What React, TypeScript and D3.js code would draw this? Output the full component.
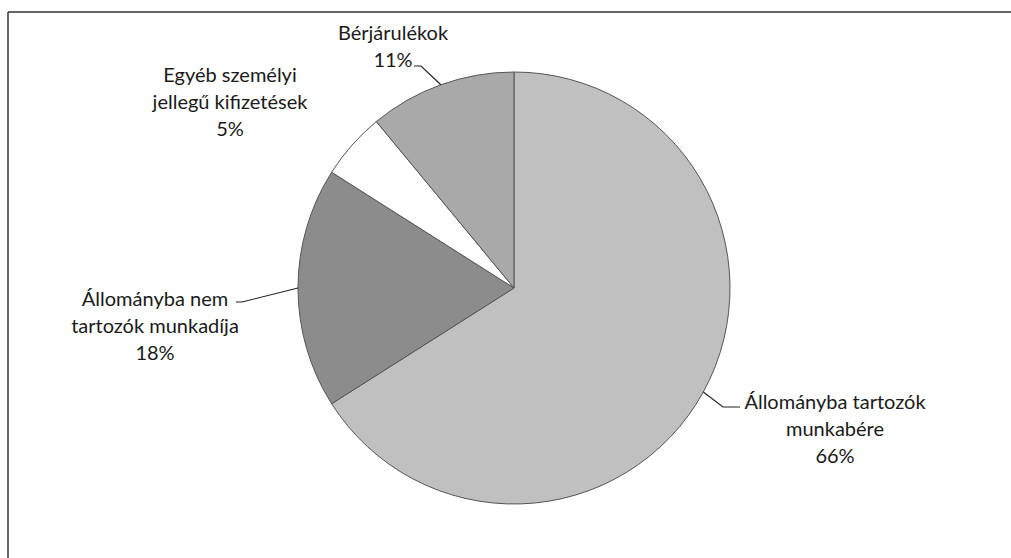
import React from "react";
import * as d3 from "d3";

const categories = [
  "Állományba tartozók munkabére",
  "Állományba nem tartozók munkadíja",
  "Egyéb személyi jellegű kifizetések",
  "Bérjárulékok",
];
const values = [66, 18, 5, 11];
const labelLines = [
  ["Állományba tartozók", "munkabére", "66%"],
  ["Állományba nem", "tartozók munkadíja", "18%"],
  ["Egyéb személyi", "jellegű kifizetések", "5%"],
  ["Bérjárulékok", "11%"],
];

// layout (not data)
const W = 1011;
const H = 558;
const cx = 514;
const cy = 288;
const R = 216;
const fills = ["#c0c0c0", "#8c8c8c", "#ffffff", "#a9a9a9"];
const labelPos = [
  { x: 835, y: 409, leader: [[740, 407], [723, 407]] },
  { x: 155, y: 306, leader: [[236, 302], [242, 302]] },
  { x: 230, y: 82, leader: null },
  { x: 393, y: 40, leader: [[414, 66], [421, 66]] },
];
const lineH = 27;

export default function App() {
  const pie = d3.pie<number>().sort(null).value((d) => d);
  const arcs = pie(values);
  const arc = d3.arc<d3.PieArcDatum<number>>().innerRadius(0).outerRadius(R);
  const font = "Lato, 'Open Sans', sans-serif";
  return (
    <svg
      width={W}
      height={H}
      style={{ position: "absolute", left: 0, top: 0, background: "#fff" }}
    >
      <line x1={8} y1={12} x2={1011} y2={12} stroke="#333" strokeWidth={1.5} />
      <line x1={8} y1={12} x2={8} y2={558} stroke="#333" strokeWidth={1.5} />
      <g transform={`translate(${cx},${cy})`}>
        {arcs.map((a, i) => (
          <path
            key={categories[i]}
            d={arc(a) || ""}
            fill={fills[i]}
            stroke="#555"
            strokeWidth={1}
          />
        ))}
      </g>
      {arcs.map((a, i) => {
        const lp = labelPos[i];
        const mid = (a.startAngle + a.endAngle) / 2;
        const ex = cx + R * Math.sin(mid);
        const ey = cy - R * Math.cos(mid);
        return (
          <g key={"l" + i}>
            {lp.leader && (
              <polyline
                points={[...lp.leader, [ex, ey]].map((p) => p.join(",")).join(" ")}
                fill="none"
                stroke="#222"
                strokeWidth={1.2}
              />
            )}
            <text
              x={lp.x}
              y={lp.y}
              textAnchor="middle"
              fontFamily={font}
              fontSize={20}
              fill="#1a1a1a"
            >
              {labelLines[i].map((t, j) => (
                <tspan key={j} x={lp.x} y={lp.y + j * lineH}>
                  {t}
                </tspan>
              ))}
            </text>
          </g>
        );
      })}
    </svg>
  );
}
